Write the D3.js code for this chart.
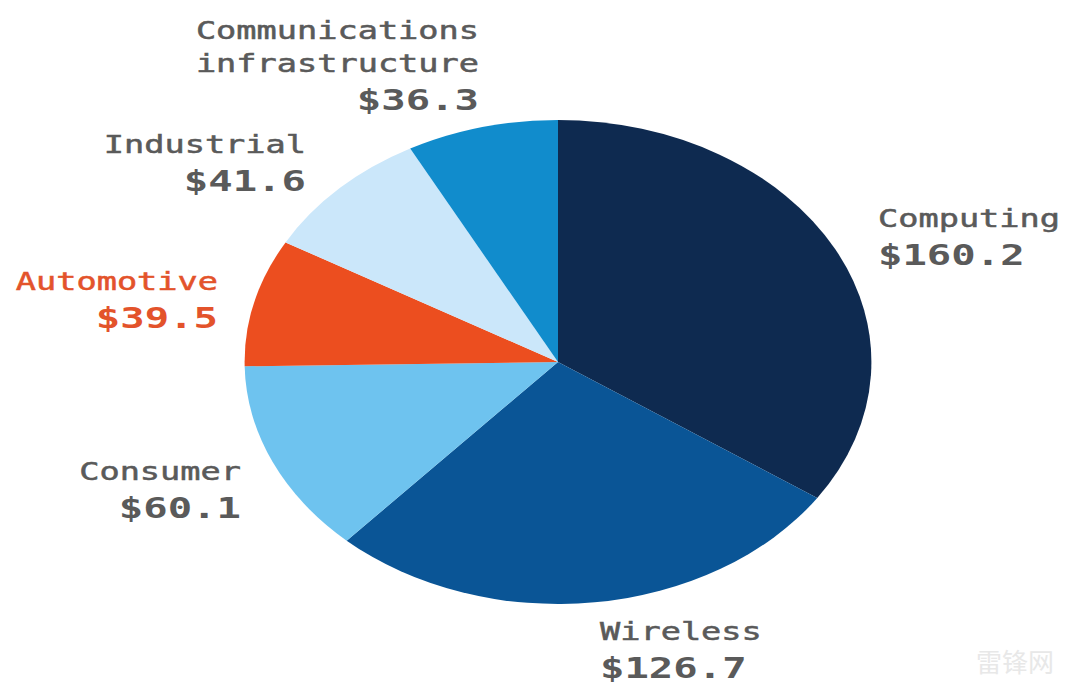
<!DOCTYPE html>
<html>
<head>
<meta charset="utf-8">
<script src="https://cdn.jsdelivr.net/npm/d3@7"></script>
<style>
  body { margin: 0; background: #fff; }
  text { font-family: "DejaVu Sans Mono", "Liberation Mono", monospace; }
</style>
</head>
<body>
<svg id="pieSVG"></svg>
<script>
// segments, clockwise from 12 o'clock
var categories = ['Computing', 'Wireless', 'Consumer', 'Automotive', 'Industrial', 'Communications infrastructure'];
var values     = [160.2, 126.7, 60.1, 39.5, 41.6, 36.3];
var labelLines = [['Computing'], ['Wireless'], ['Consumer'], ['Automotive'], ['Industrial'], ['Communications', 'infrastructure']];
var colors     = ['#0e2a50', '#0a5596', '#6ec3ef', '#ec4e1f', '#cbe7fa', '#118ccc'];
var textColors = ['#5a5a5a', '#5a5a5a', '#5a5a5a', '#e3532b', '#5a5a5a', '#5a5a5a'];

var width = 1066;
var height = 686;

var cx = 558, cy = 362;
var radius = 242;
var stretch = 1.295;   // the pie is squashed wide in the source

// where each label block sits (baseline of last name line)
var labelPos = [
  { x: 878, y: 227, anchor: 'start' },
  { x: 600, y: 640, anchor: 'start' },
  { x: 241, y: 480, anchor: 'end' },
  { x: 218, y: 290, anchor: 'end' },
  { x: 306, y: 153, anchor: 'end' },
  { x: 479, y: 72,  anchor: 'end' }
];

var svg = d3.select('#pieSVG').attr('width', width).attr('height', height);

var pie = d3.pie().sort(null).value(function(d){ return d; });
var arc = d3.arc().innerRadius(0).outerRadius(radius);

var pieG = svg.append('g')
  .attr('transform', 'translate(' + cx + ',' + cy + ') scale(' + stretch + ',1)');

pieG.selectAll('path')
  .data(pie(values))
  .enter()
  .append('path')
  .attr('d', arc)
  .attr('fill', function(d,i){ return colors[i]; });

var lineGap = 33;

categories.forEach(function(c, i){
  var p = labelPos[i];
  var g = svg.append('g')
    .attr('transform', 'translate(' + p.x + ',' + p.y + ') scale(1.4,1)')
    .attr('text-anchor', p.anchor)
    .attr('fill', textColors[i]);

  var lines = labelLines[i];
  lines.forEach(function(l, j){
    g.append('text')
      .attr('y', -(lines.length - 1 - j) * lineGap)
      .attr('font-size', 24)
      .attr('stroke', textColors[i])
      .attr('stroke-width', 0.5)
      .text(l);
  });

  g.append('text')
    .attr('y', 38)
    .attr('font-size', 29)
    .attr('font-weight', 'bold')
    .text('$' + values[i].toFixed(1));
});

// faint watermark bottom right
svg.append('text')
  .attr('x', 1015).attr('y', 672)
  .attr('text-anchor', 'middle')
  .attr('font-size', 26)
  .attr('fill', '#e8e8e8')
  .style('font-family', '"Noto Sans CJK SC", sans-serif')
  .text('雷锋网');
</script>
</body>
</html>
